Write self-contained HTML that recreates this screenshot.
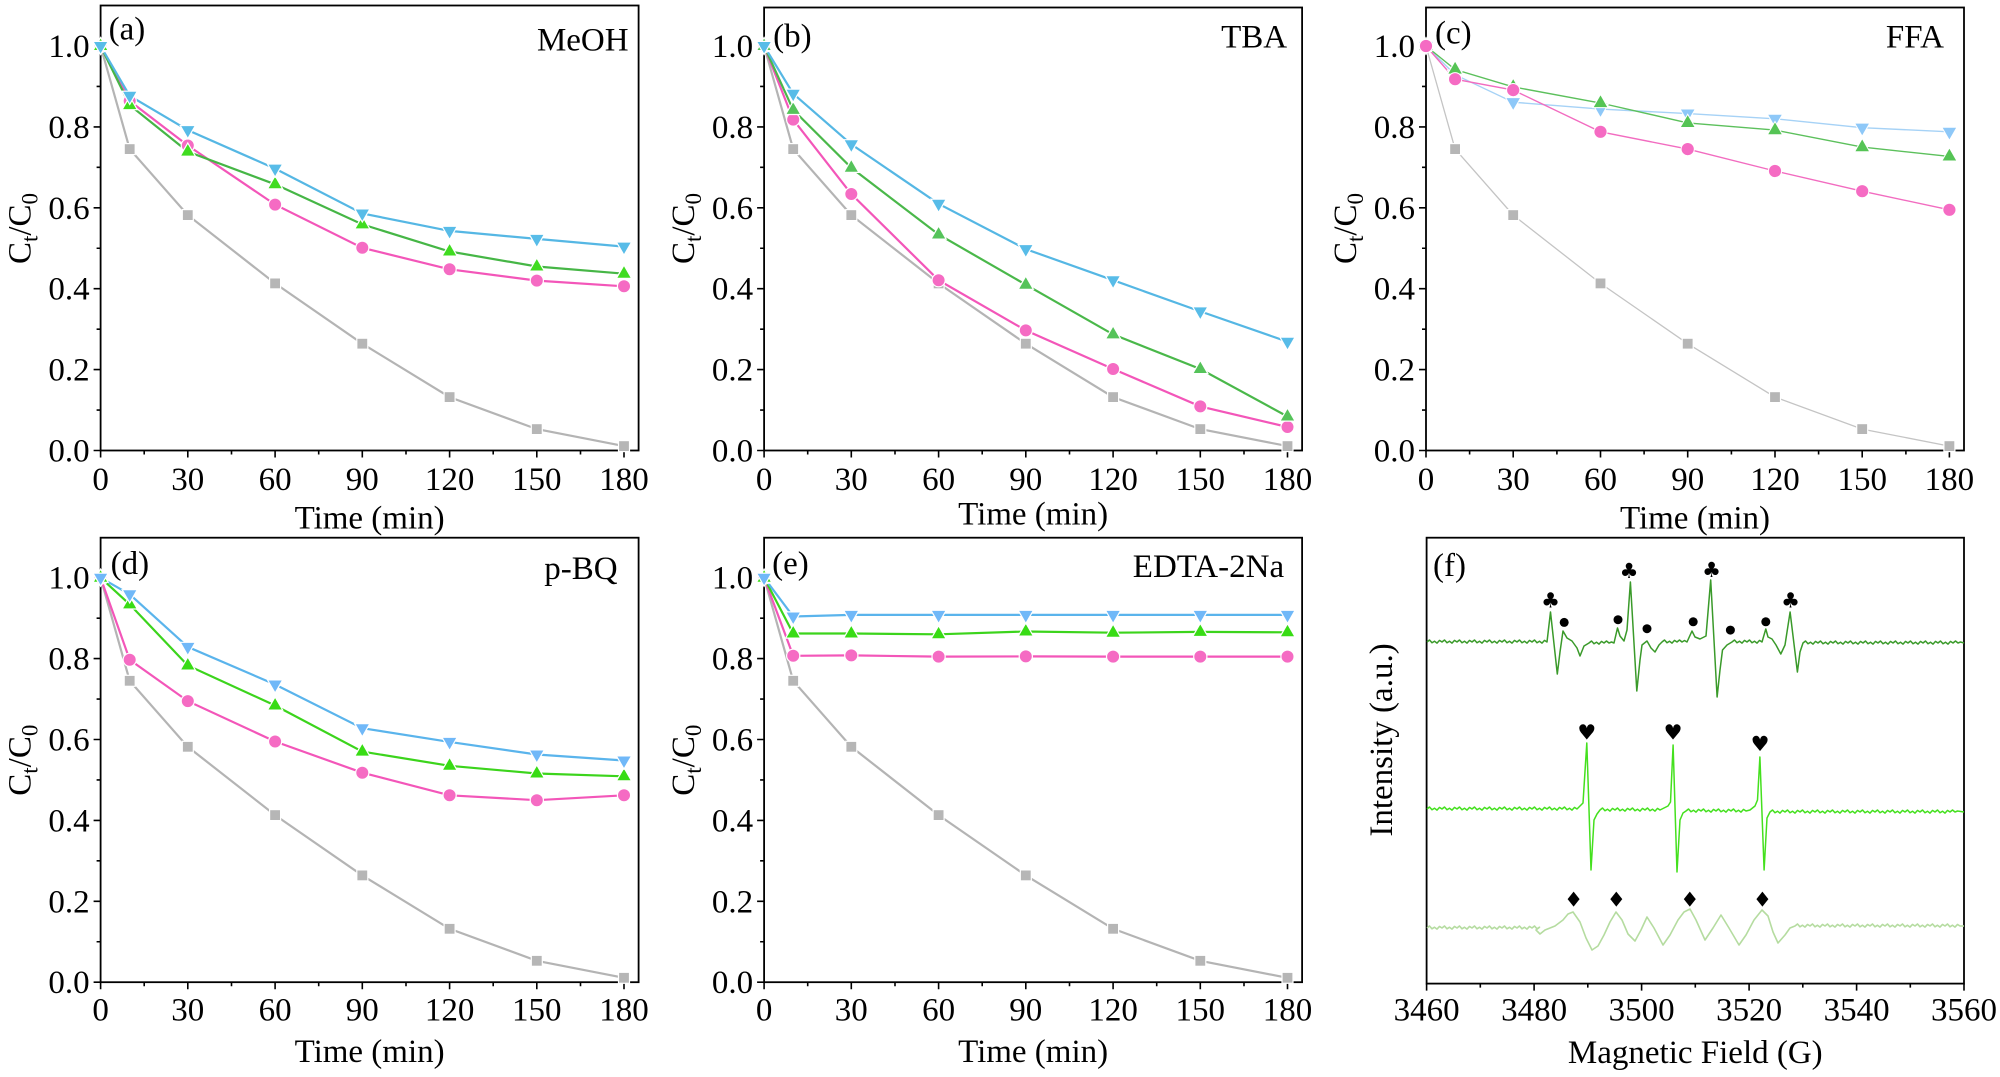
<!DOCTYPE html>
<html><head><meta charset="utf-8"><style>
html,body{margin:0;padding:0;background:#fff;}
svg{display:block;}
text{font-family:"Liberation Serif","Times New Roman",serif;fill:#000;}
.sym{font-family:"DejaVu Sans",sans-serif;}
</style></head><body>
<svg width="2000" height="1077" viewBox="0 0 2000 1077" xmlns="http://www.w3.org/2000/svg">
<defs>
<rect id="sq" x="-5.5" y="-5.5" width="11" height="11"/>
<circle id="ci" cx="0" cy="0" r="6.6"/>
<polygon id="tu" points="0,-8.6 7.6,4.6 -7.6,4.6"/>
<polygon id="td" points="0,8.6 7.6,-4.6 -7.6,-4.6"/>
<path id="ticks" d="M0,0v7M87.2,0v7M174.5,0v7M261.7,0v7M349,0v7M436.2,0v7M523.4,0v7M43.6,0v4M130.9,0v4M218.1,0v4M305.4,0v4M392.6,0v4M479.9,0v4M0,0h-7M0,-80.9h-7M0,-161.8h-7M0,-242.7h-7M0,-323.6h-7M0,-404.5h-7M0,-40.45h-4M0,-121.35h-4M0,-202.25h-4M0,-283.15h-4M0,-364.05h-4" fill="none" stroke="#000" stroke-width="1.6"/>
</defs>

<!-- ================= Panel (a) ================= -->
<g transform="translate(100.6,450.5)">
<rect x="0" y="-445" width="538" height="445" fill="none" stroke="#000" stroke-width="1.8"/>
<use href="#ticks"/>
<g font-size="33" text-anchor="end">
<text x="-11" y="11">0.0</text><text x="-11" y="-69.9">0.2</text><text x="-11" y="-150.8">0.4</text><text x="-11" y="-231.7">0.6</text><text x="-11" y="-312.6">0.8</text><text x="-11" y="-393.5">1.0</text>
</g>
<g font-size="33" text-anchor="middle">
<text x="0" y="39.5">0</text><text x="87.2" y="39.5">30</text><text x="174.5" y="39.5">60</text><text x="261.7" y="39.5">90</text><text x="349" y="39.5">120</text><text x="436.2" y="39.5">150</text><text x="523.4" y="39.5">180</text>
</g>
<polyline fill="none" stroke="#b4b4b4" stroke-width="2.2" points="0,-404.5 29.1,-301.4 87.2,-235.4 174.5,-167.1 261.7,-106.8 349,-53.4 436.2,-21.4 523.4,-4.4"/>
<polyline fill="none" stroke="#f356b9" stroke-width="2.2" points="0,-404.5 29.1,-349.5 87.2,-305 174.5,-245.9 261.7,-202.7 349,-181.2 436.2,-169.9 523.4,-164.2"/>
<polyline fill="none" stroke="#46b646" stroke-width="2.2" points="0,-404.5 29.1,-345.4 87.2,-298.9 174.5,-266.2 261.7,-226.1 349,-199 436.2,-184 523.4,-176.8"/>
<polyline fill="none" stroke="#55b7e4" stroke-width="2.2" points="0,-404.5 29.1,-354.7 87.2,-320.4 174.5,-281.9 261.7,-237 349,-219.6 436.2,-211.6 523.4,-203.9"/>
<g fill="#b6b6b6" stroke="#fff" stroke-width="1.2"><use href="#sq" x="0" y="-404.5"/><use href="#sq" x="29.1" y="-301.4"/><use href="#sq" x="87.2" y="-235.4"/><use href="#sq" x="174.5" y="-167.1"/><use href="#sq" x="261.7" y="-106.8"/><use href="#sq" x="349" y="-53.4"/><use href="#sq" x="436.2" y="-21.4"/><use href="#sq" x="523.4" y="-4.4"/></g>
<g fill="#f56bc3" stroke="#fff" stroke-width="1.2"><use href="#ci" x="0" y="-404.5"/><use href="#ci" x="29.1" y="-349.5"/><use href="#ci" x="87.2" y="-305"/><use href="#ci" x="174.5" y="-245.9"/><use href="#ci" x="261.7" y="-202.7"/><use href="#ci" x="349" y="-181.2"/><use href="#ci" x="436.2" y="-169.9"/><use href="#ci" x="523.4" y="-164.2"/></g>
<g fill="#40dc20" stroke="#fff" stroke-width="1.2"><use href="#tu" x="0" y="-404.5"/><use href="#tu" x="29.1" y="-345.4"/><use href="#tu" x="87.2" y="-298.9"/><use href="#tu" x="174.5" y="-266.2"/><use href="#tu" x="261.7" y="-226.1"/><use href="#tu" x="349" y="-199"/><use href="#tu" x="436.2" y="-184"/><use href="#tu" x="523.4" y="-176.8"/></g>
<g fill="#58bce8" stroke="#fff" stroke-width="1.2"><use href="#td" x="0" y="-404.5"/><use href="#td" x="29.1" y="-354.7"/><use href="#td" x="87.2" y="-320.4"/><use href="#td" x="174.5" y="-281.9"/><use href="#td" x="261.7" y="-237"/><use href="#td" x="349" y="-219.6"/><use href="#td" x="436.2" y="-211.6"/><use href="#td" x="523.4" y="-203.9"/></g>
<text x="8" y="-411" font-size="33">(a)</text>
<text x="528" y="-400" font-size="33" text-anchor="end">MeOH</text>
<text x="269" y="78" font-size="33" text-anchor="middle">Time (min)</text>
<text transform="translate(-70,-222) rotate(-90)" font-size="33" text-anchor="middle">C<tspan font-size="23" dy="7">t</tspan><tspan dy="-7">/C</tspan><tspan font-size="23" dy="7">0</tspan></text>
</g>

<!-- ================= Panel (b) ================= -->
<g transform="translate(764.1,450.5)">
<rect x="0" y="-443" width="538" height="443" fill="none" stroke="#000" stroke-width="1.8"/>
<use href="#ticks"/>
<g font-size="33" text-anchor="end">
<text x="-11" y="11">0.0</text><text x="-11" y="-69.9">0.2</text><text x="-11" y="-150.8">0.4</text><text x="-11" y="-231.7">0.6</text><text x="-11" y="-312.6">0.8</text><text x="-11" y="-393.5">1.0</text>
</g>
<g font-size="33" text-anchor="middle">
<text x="0" y="39.5">0</text><text x="87.2" y="39.5">30</text><text x="174.5" y="39.5">60</text><text x="261.7" y="39.5">90</text><text x="349" y="39.5">120</text><text x="436.2" y="39.5">150</text><text x="523.4" y="39.5">180</text>
</g>
<polyline fill="none" stroke="#b4b4b4" stroke-width="2.2" points="0,-404.5 29.1,-301.4 87.2,-235.4 174.5,-167.1 261.7,-106.8 349,-53.4 436.2,-21.4 523.4,-4.4"/>
<polyline fill="none" stroke="#f356b9" stroke-width="2.2" points="0,-404.5 29.1,-330.9 87.2,-256.5 174.5,-170.3 261.7,-120.1 349,-81.5 436.2,-44.1 523.4,-23.5"/>
<polyline fill="none" stroke="#4ab84a" stroke-width="2.2" points="0,-404.5 29.1,-340.6 87.2,-282.7 174.5,-216 261.7,-165.8 349,-116.1 436.2,-81.5 523.4,-34"/>
<polyline fill="none" stroke="#55b7e4" stroke-width="2.2" points="0,-404.5 29.1,-356.8 87.2,-306.2 174.5,-246.7 261.7,-201.4 349,-170.3 436.2,-139.1 523.4,-108.8"/>
<g fill="#b6b6b6" stroke="#fff" stroke-width="1.2"><use href="#sq" x="0" y="-404.5"/><use href="#sq" x="29.1" y="-301.4"/><use href="#sq" x="87.2" y="-235.4"/><use href="#sq" x="174.5" y="-167.1"/><use href="#sq" x="261.7" y="-106.8"/><use href="#sq" x="349" y="-53.4"/><use href="#sq" x="436.2" y="-21.4"/><use href="#sq" x="523.4" y="-4.4"/></g>
<g fill="#f56bc3" stroke="#fff" stroke-width="1.2"><use href="#ci" x="0" y="-404.5"/><use href="#ci" x="29.1" y="-330.9"/><use href="#ci" x="87.2" y="-256.5"/><use href="#ci" x="174.5" y="-170.3"/><use href="#ci" x="261.7" y="-120.1"/><use href="#ci" x="349" y="-81.5"/><use href="#ci" x="436.2" y="-44.1"/><use href="#ci" x="523.4" y="-23.5"/></g>
<g fill="#55c35a" stroke="#fff" stroke-width="1.2"><use href="#tu" x="0" y="-404.5"/><use href="#tu" x="29.1" y="-340.6"/><use href="#tu" x="87.2" y="-282.7"/><use href="#tu" x="174.5" y="-216"/><use href="#tu" x="261.7" y="-165.8"/><use href="#tu" x="349" y="-116.1"/><use href="#tu" x="436.2" y="-81.5"/><use href="#tu" x="523.4" y="-34"/></g>
<g fill="#58bce8" stroke="#fff" stroke-width="1.2"><use href="#td" x="0" y="-404.5"/><use href="#td" x="29.1" y="-356.8"/><use href="#td" x="87.2" y="-306.2"/><use href="#td" x="174.5" y="-246.7"/><use href="#td" x="261.7" y="-201.4"/><use href="#td" x="349" y="-170.3"/><use href="#td" x="436.2" y="-139.1"/><use href="#td" x="523.4" y="-108.8"/></g>
<text x="9" y="-404" font-size="33">(b)</text>
<text x="523" y="-403" font-size="33" text-anchor="end">TBA</text>
<text x="269" y="74" font-size="33" text-anchor="middle">Time (min)</text>
<text transform="translate(-70,-222) rotate(-90)" font-size="33" text-anchor="middle">C<tspan font-size="23" dy="7">t</tspan><tspan dy="-7">/C</tspan><tspan font-size="23" dy="7">0</tspan></text>
</g>

<!-- ================= Panel (c) ================= -->
<g transform="translate(1426,450.5)">
<rect x="0" y="-443" width="538" height="443" fill="none" stroke="#000" stroke-width="1.8"/>
<use href="#ticks"/>
<g font-size="33" text-anchor="end">
<text x="-11" y="11">0.0</text><text x="-11" y="-69.9">0.2</text><text x="-11" y="-150.8">0.4</text><text x="-11" y="-231.7">0.6</text><text x="-11" y="-312.6">0.8</text><text x="-11" y="-393.5">1.0</text>
</g>
<g font-size="33" text-anchor="middle">
<text x="0" y="39.5">0</text><text x="87.2" y="39.5">30</text><text x="174.5" y="39.5">60</text><text x="261.7" y="39.5">90</text><text x="349" y="39.5">120</text><text x="436.2" y="39.5">150</text><text x="523.4" y="39.5">180</text>
</g>
<polyline fill="none" stroke="#c4c4c4" stroke-width="1.3" points="0,-404.5 29.1,-301.4 87.2,-235.4 174.5,-167.1 261.7,-106.8 349,-53.4 436.2,-21.4 523.4,-4.4"/>
<polyline fill="none" stroke="#a6d2f6" stroke-width="1.4" points="0,-404.5 29.1,-375.8 87.2,-348.3 174.5,-341.4 261.7,-336.9 349,-331.7 436.2,-322.8 523.4,-318.7"/>
<polyline fill="none" stroke="#5cc05c" stroke-width="1.4" points="0,-404.5 29.1,-381 87.2,-363.6 174.5,-347.5 261.7,-327.6 349,-320.4 436.2,-303.4 523.4,-294.1"/>
<polyline fill="none" stroke="#f26cc0" stroke-width="1.4" points="0,-404.5 29.1,-371.3 87.2,-360.4 174.5,-318.7 261.7,-301.4 349,-279.5 436.2,-259.3 523.4,-240.7"/>
<g fill="#b6b6b6" stroke="#fff" stroke-width="1.2"><use href="#sq" x="0" y="-404.5"/><use href="#sq" x="29.1" y="-301.4"/><use href="#sq" x="87.2" y="-235.4"/><use href="#sq" x="174.5" y="-167.1"/><use href="#sq" x="261.7" y="-106.8"/><use href="#sq" x="349" y="-53.4"/><use href="#sq" x="436.2" y="-21.4"/><use href="#sq" x="523.4" y="-4.4"/></g>
<g fill="#8ec8f8" stroke="#fff" stroke-width="1"><use href="#td" x="0" y="-404.5"/><use href="#td" x="29.1" y="-375.8"/><use href="#td" x="87.2" y="-348.3"/><use href="#td" x="174.5" y="-341.4"/><use href="#td" x="261.7" y="-336.9"/><use href="#td" x="349" y="-331.7"/><use href="#td" x="436.2" y="-322.8"/><use href="#td" x="523.4" y="-318.7"/></g>
<g fill="#55c455" stroke="#fff" stroke-width="1"><use href="#tu" x="0" y="-404.5"/><use href="#tu" x="29.1" y="-381"/><use href="#tu" x="87.2" y="-363.6"/><use href="#tu" x="174.5" y="-347.5"/><use href="#tu" x="261.7" y="-327.6"/><use href="#tu" x="349" y="-320.4"/><use href="#tu" x="436.2" y="-303.4"/><use href="#tu" x="523.4" y="-294.1"/></g>
<g fill="#f56bc3" stroke="#fff" stroke-width="1"><use href="#ci" x="0" y="-404.5"/><use href="#ci" x="29.1" y="-371.3"/><use href="#ci" x="87.2" y="-360.4"/><use href="#ci" x="174.5" y="-318.7"/><use href="#ci" x="261.7" y="-301.4"/><use href="#ci" x="349" y="-279.5"/><use href="#ci" x="436.2" y="-259.3"/><use href="#ci" x="523.4" y="-240.7"/></g>
<text x="9" y="-407" font-size="33">(c)</text>
<text x="518" y="-403" font-size="33" text-anchor="end">FFA</text>
<text x="269" y="78" font-size="33" text-anchor="middle">Time (min)</text>
<text transform="translate(-70,-222) rotate(-90)" font-size="33" text-anchor="middle">C<tspan font-size="23" dy="7">t</tspan><tspan dy="-7">/C</tspan><tspan font-size="23" dy="7">0</tspan></text>
</g>

<!-- ================= Panel (d) ================= -->
<g transform="translate(100.6,982.2)">
<rect x="0" y="-444.5" width="538" height="444.5" fill="none" stroke="#000" stroke-width="1.8"/>
<use href="#ticks"/>
<g font-size="33" text-anchor="end">
<text x="-11" y="11">0.0</text><text x="-11" y="-69.9">0.2</text><text x="-11" y="-150.8">0.4</text><text x="-11" y="-231.7">0.6</text><text x="-11" y="-312.6">0.8</text><text x="-11" y="-393.5">1.0</text>
</g>
<g font-size="33" text-anchor="middle">
<text x="0" y="38.5">0</text><text x="87.2" y="38.5">30</text><text x="174.5" y="38.5">60</text><text x="261.7" y="38.5">90</text><text x="349" y="38.5">120</text><text x="436.2" y="38.5">150</text><text x="523.4" y="38.5">180</text>
</g>
<polyline fill="none" stroke="#b4b4b4" stroke-width="2.2" points="0,-404.5 29.1,-301.4 87.2,-235.4 174.5,-167.1 261.7,-106.8 349,-53.4 436.2,-21.4 523.4,-4.4"/>
<polyline fill="none" stroke="#f356b9" stroke-width="2.2" points="0,-404.5 29.1,-322.4 87.2,-281.1 174.5,-240.7 261.7,-209.5 349,-186.9 436.2,-182 523.4,-186.9"/>
<polyline fill="none" stroke="#3cd41c" stroke-width="2.2" points="0,-404.5 29.1,-377.8 87.2,-316.7 174.5,-276.7 261.7,-230.6 349,-216.4 436.2,-208.7 523.4,-205.9"/>
<polyline fill="none" stroke="#5ab4ec" stroke-width="2.2" points="0,-404.5 29.1,-387.9 87.2,-335.3 174.5,-297.7 261.7,-254 349,-240.3 436.2,-227.7 523.4,-221.7"/>
<g fill="#b6b6b6" stroke="#fff" stroke-width="1.2"><use href="#sq" x="0" y="-404.5"/><use href="#sq" x="29.1" y="-301.4"/><use href="#sq" x="87.2" y="-235.4"/><use href="#sq" x="174.5" y="-167.1"/><use href="#sq" x="261.7" y="-106.8"/><use href="#sq" x="349" y="-53.4"/><use href="#sq" x="436.2" y="-21.4"/><use href="#sq" x="523.4" y="-4.4"/></g>
<g fill="#f56bc3" stroke="#fff" stroke-width="1.2"><use href="#ci" x="0" y="-404.5"/><use href="#ci" x="29.1" y="-322.4"/><use href="#ci" x="87.2" y="-281.1"/><use href="#ci" x="174.5" y="-240.7"/><use href="#ci" x="261.7" y="-209.5"/><use href="#ci" x="349" y="-186.9"/><use href="#ci" x="436.2" y="-182"/><use href="#ci" x="523.4" y="-186.9"/></g>
<g fill="#38dc14" stroke="#fff" stroke-width="1.2"><use href="#tu" x="0" y="-404.5"/><use href="#tu" x="29.1" y="-377.8"/><use href="#tu" x="87.2" y="-316.7"/><use href="#tu" x="174.5" y="-276.7"/><use href="#tu" x="261.7" y="-230.6"/><use href="#tu" x="349" y="-216.4"/><use href="#tu" x="436.2" y="-208.7"/><use href="#tu" x="523.4" y="-205.9"/></g>
<g fill="#70b8f8" stroke="#fff" stroke-width="1.2"><use href="#td" x="0" y="-404.5"/><use href="#td" x="29.1" y="-387.9"/><use href="#td" x="87.2" y="-335.3"/><use href="#td" x="174.5" y="-297.7"/><use href="#td" x="261.7" y="-254"/><use href="#td" x="349" y="-240.3"/><use href="#td" x="436.2" y="-227.7"/><use href="#td" x="523.4" y="-221.7"/></g>
<text x="10" y="-408" font-size="33">(d)</text>
<text x="517" y="-403" font-size="33" text-anchor="end">p-BQ</text>
<text x="269" y="80" font-size="33" text-anchor="middle">Time (min)</text>
<text transform="translate(-70,-222) rotate(-90)" font-size="33" text-anchor="middle">C<tspan font-size="23" dy="7">t</tspan><tspan dy="-7">/C</tspan><tspan font-size="23" dy="7">0</tspan></text>
</g>

<!-- ================= Panel (e) ================= -->
<g transform="translate(764.1,982.2)">
<rect x="0" y="-444.5" width="538" height="444.5" fill="none" stroke="#000" stroke-width="1.8"/>
<use href="#ticks"/>
<g font-size="33" text-anchor="end">
<text x="-11" y="11">0.0</text><text x="-11" y="-69.9">0.2</text><text x="-11" y="-150.8">0.4</text><text x="-11" y="-231.7">0.6</text><text x="-11" y="-312.6">0.8</text><text x="-11" y="-393.5">1.0</text>
</g>
<g font-size="33" text-anchor="middle">
<text x="0" y="38.5">0</text><text x="87.2" y="38.5">30</text><text x="174.5" y="38.5">60</text><text x="261.7" y="38.5">90</text><text x="349" y="38.5">120</text><text x="436.2" y="38.5">150</text><text x="523.4" y="38.5">180</text>
</g>
<polyline fill="none" stroke="#b4b4b4" stroke-width="2.2" points="0,-404.5 29.1,-301.4 87.2,-235.4 174.5,-167.1 261.7,-106.8 349,-53.4 436.2,-21.4 523.4,-4.4"/>
<polyline fill="none" stroke="#f356b9" stroke-width="2.2" points="0,-404.5 29.1,-326.4 87.2,-326.8 174.5,-325.6 261.7,-325.8 349,-325.6 436.2,-325.6 523.4,-325.6"/>
<polyline fill="none" stroke="#3cd41c" stroke-width="2.2" points="0,-404.5 29.1,-348.7 87.2,-348.7 174.5,-347.9 261.7,-350.7 349,-349.5 436.2,-350.3 523.4,-349.9"/>
<polyline fill="none" stroke="#5ab4ec" stroke-width="2.2" points="0,-404.5 29.1,-365.7 87.2,-367.3 174.5,-367.3 261.7,-367.3 349,-367.3 436.2,-367.3 523.4,-367.3"/>
<g fill="#b6b6b6" stroke="#fff" stroke-width="1.2"><use href="#sq" x="0" y="-404.5"/><use href="#sq" x="29.1" y="-301.4"/><use href="#sq" x="87.2" y="-235.4"/><use href="#sq" x="174.5" y="-167.1"/><use href="#sq" x="261.7" y="-106.8"/><use href="#sq" x="349" y="-53.4"/><use href="#sq" x="436.2" y="-21.4"/><use href="#sq" x="523.4" y="-4.4"/></g>
<g fill="#f56bc3" stroke="#fff" stroke-width="1.2"><use href="#ci" x="0" y="-404.5"/><use href="#ci" x="29.1" y="-326.4"/><use href="#ci" x="87.2" y="-326.8"/><use href="#ci" x="174.5" y="-325.6"/><use href="#ci" x="261.7" y="-325.8"/><use href="#ci" x="349" y="-325.6"/><use href="#ci" x="436.2" y="-325.6"/><use href="#ci" x="523.4" y="-325.6"/></g>
<g fill="#38dc14" stroke="#fff" stroke-width="1.2"><use href="#tu" x="0" y="-404.5"/><use href="#tu" x="29.1" y="-348.7"/><use href="#tu" x="87.2" y="-348.7"/><use href="#tu" x="174.5" y="-347.9"/><use href="#tu" x="261.7" y="-350.7"/><use href="#tu" x="349" y="-349.5"/><use href="#tu" x="436.2" y="-350.3"/><use href="#tu" x="523.4" y="-349.9"/></g>
<g fill="#70b8f8" stroke="#fff" stroke-width="1.2"><use href="#td" x="0" y="-404.5"/><use href="#td" x="29.1" y="-365.7"/><use href="#td" x="87.2" y="-367.3"/><use href="#td" x="174.5" y="-367.3"/><use href="#td" x="261.7" y="-367.3"/><use href="#td" x="349" y="-367.3"/><use href="#td" x="436.2" y="-367.3"/><use href="#td" x="523.4" y="-367.3"/></g>
<text x="8" y="-408" font-size="33">(e)</text>
<text x="520" y="-405" font-size="33" text-anchor="end">EDTA-2Na</text>
<text x="269" y="80" font-size="33" text-anchor="middle">Time (min)</text>
<text transform="translate(-70,-222) rotate(-90)" font-size="33" text-anchor="middle">C<tspan font-size="23" dy="7">t</tspan><tspan dy="-7">/C</tspan><tspan font-size="23" dy="7">0</tspan></text>
</g>

<!-- ================= Panel (f) ================= -->
<g>
<rect x="1426.6" y="537.7" width="537.4" height="445.9" fill="none" stroke="#000" stroke-width="1.8"/>
<path d="M1426.6,983.6v7M1534.1,983.6v7M1641.6,983.6v7M1749.1,983.6v7M1856.6,983.6v7M1964,983.6v7M1480.3,983.6v4M1587.8,983.6v4M1695.3,983.6v4M1802.8,983.6v4M1910.3,983.6v4" fill="none" stroke="#000" stroke-width="1.6"/>
<g font-size="33" text-anchor="middle">
<text x="1426.6" y="1020.5">3460</text><text x="1534.1" y="1020.5">3480</text><text x="1641.6" y="1020.5">3500</text><text x="1749.1" y="1020.5">3520</text><text x="1856.6" y="1020.5">3540</text><text x="1964" y="1020.5">3560</text>
</g>
<text x="1695.3" y="1063" font-size="33" text-anchor="middle">Magnetic Field (G)</text>
<text transform="translate(1392,740) rotate(-90)" font-size="33" text-anchor="middle">Intensity (a.u.)</text>
<text x="1433" y="576" font-size="33">(f)</text>

<!-- top spectrum -->
<path fill="none" stroke="#3a9a2a" stroke-width="1.5" stroke-linejoin="round" d="M1427,642
l2.5,-2 l2.5,2.8 l2.5,-1.6 l2.5,1.9 l2.5,-2.7 l2.5,1.6 l2.5,-2 l2.5,2.8 l2.5,-1.6 l2.5,1.9 l2.5,-2.7 l2.5,1.6
l2.5,-2 l2.5,2.8 l2.5,-1.6 l2.5,1.9 l2.5,-2.7 l2.5,1.6 l2.5,-2 l2.5,2.8 l2.5,-1.6 l2.5,1.9 l2.5,-2.7 l2.5,1.6
l2.5,-2 l2.5,2.8 l2.5,-1.6 l2.5,1.9 l2.5,-2.7 l2.5,1.6 l2.5,-2 l2.5,2.8 l2.5,-1.6 l2.5,1.9 l2.5,-2.7 l2.5,1.6
l2.5,-2 l2.5,2.8 l2.5,-1.6 l2.5,1.9 l2.5,-2.7 l2.5,1.6 l2.5,-2 l2.5,2.8 l2.5,-1.6 l2.5,1.9 l2.5,-2.7 l2.5,1.6
L1550.5,612 L1557.3,674 L1560,652 L1563,631 L1567,638 L1572,641 L1577,648 L1580,656 L1584,646 L1589,643
l2.5,-2 l2.5,2.8 l2.5,-1.6 l2.5,1.9 l2.5,-2.7 l2.5,1.6 l2.5,-2 l2.5,2 l2.5,-1 l2.5,1
L1617.5,628 L1620,636 L1624,641 L1627,630 L1630.4,582 L1636.8,691 L1640,660 L1642,645 L1647,641 L1651,648 L1655,652 L1659,645 L1662,642
l2.5,-2 l2.5,2.8 l2.5,-1.6 l2.5,1.9 l2.5,-2.7 l2.5,1.6 l2.5,-2 l2.5,2 l2.5,-1.5 l2.5,1.5
L1692,631 L1695,637 L1700,639 L1706,636 L1710.7,580 L1717.1,697 L1720,670 L1722.5,650 L1727,645 L1732,642
l2.5,-2 l2.5,2.8 l2.5,-1.6 l2.5,1.9 l2.5,-2.7 l2.5,1.6 l2.5,-2 l2.5,2.8 l2.5,-1.6 l2.5,1.9 l2.5,-2.7 l2.5,1.6
L1765.8,629 L1768,637 L1772,639 L1776,645 L1780.8,654 L1785,645 L1790.1,612 L1797.4,672 L1800,652 L1803,643
l2.5,-2 l2.5,2.8 l2.5,-1.6 l2.5,1.9 l2.5,-2.7 l2.5,1.6 l2.5,-2 l2.5,2.8 l2.5,-1.6 l2.5,1.9 l2.5,-2.7 l2.5,1.6
l2.5,-2 l2.5,2.8 l2.5,-1.6 l2.5,1.9 l2.5,-2.7 l2.5,1.6 l2.5,-2 l2.5,2.8 l2.5,-1.6 l2.5,1.9 l2.5,-2.7 l2.5,1.6
l2.5,-2 l2.5,2.8 l2.5,-1.6 l2.5,1.9 l2.5,-2.7 l2.5,1.6 l2.5,-2 l2.5,2.8 l2.5,-1.6 l2.5,1.9 l2.5,-2.7 l2.5,1.6
l2.5,-2 l2.5,2.8 l2.5,-1.6 l2.5,1.9 l2.5,-2.7 l2.5,1.6 l2.5,-2 l2.5,2.8 l2.5,-1.6 l2.5,1.9 l2.5,-2.7 l2.5,1.6
l2.5,-2 l2.5,2.8 l2.5,-1.6 l2.5,1.9 l2.5,-2.7 l2.5,1.6 l2.5,-2 l2.5,2.8 l2.5,-1.6 l2.5,1.9 l2.5,-2.7 l2.5,1.6
l2.5,-2 l2.5,2 l2.5,-1 l3.5,1"/>

<!-- middle spectrum -->
<path fill="none" stroke="#44e01e" stroke-width="1.5" stroke-linejoin="round" d="M1427,809
l2.5,-2 l2.5,2.8 l2.5,-1.6 l2.5,1.9 l2.5,-2.7 l2.5,1.6 l2.5,-2 l2.5,2.8 l2.5,-1.6 l2.5,1.9 l2.5,-2.7 l2.5,1.6
l2.5,-2 l2.5,2.8 l2.5,-1.6 l2.5,1.9 l2.5,-2.7 l2.5,1.6 l2.5,-2 l2.5,2.8 l2.5,-1.6 l2.5,1.9 l2.5,-2.7 l2.5,1.6
l2.5,-2 l2.5,2.8 l2.5,-1.6 l2.5,1.9 l2.5,-2.7 l2.5,1.6 l2.5,-2 l2.5,2.8 l2.5,-1.6 l2.5,1.9 l2.5,-2.7 l2.5,1.6
l2.5,-2 l2.5,2.8 l2.5,-1.6 l2.5,1.9 l2.5,-2.7 l2.5,1.6 l2.5,-2 l2.5,2.8 l2.5,-1.6 l2.5,1.9 l2.5,-2.7 l2.5,1.6
l2.5,-2 l2.5,2.8 l2.5,-1.6 l2.5,1.9 l2.5,-2.7 l2.5,1.6 l2.5,-2 l2.5,2.8 l2.5,-1.6 l2.5,1.9 l2.5,-2.7 l2.5,1.6
L1580,806 L1583,803 L1586.8,743 L1591,870 L1594,820 L1597,814 L1600,810
l2.5,-2 l2.5,2.8 l2.5,-1.6 l2.5,1.9 l2.5,-2.7 l2.5,1.6 l2.5,-2 l2.5,2.8 l2.5,-1.6 l2.5,1.9 l2.5,-2.7 l2.5,1.6
l2.5,-2 l2.5,2.8 l2.5,-1.6 l2.5,1.9 l2.5,-2.7 l2.5,1.6 l2.5,-2 l2.5,2.8 l2.5,-1.6 l2.5,1.9 l2.5,-2.7 l2.5,1.6
L1664,808 L1668,806 L1670.5,802 L1673.1,745 L1677,872 L1680,820 L1683,813 L1686,811
l2.5,-2 l2.5,2.8 l2.5,-1.6 l2.5,1.9 l2.5,-2.7 l2.5,1.6 l2.5,-2 l2.5,2.8 l2.5,-1.6 l2.5,1.9 l2.5,-2.7 l2.5,1.6
l2.5,-2 l2.5,2.8 l2.5,-1.6 l2.5,1.9 l2.5,-2.7 l2.5,1.6 l2.5,-2 l2.5,2.8 l2.5,-1.6 l2.5,1.9 l2.5,-2.7 l2.5,1.6
L1750,810 L1755,806 L1757.5,800 L1759.9,757 L1764.1,870 L1767,818 L1770,812
l2.5,-2 l2.5,2.8 l2.5,-1.6 l2.5,1.9 l2.5,-2.7 l2.5,1.6 l2.5,-2 l2.5,2.8 l2.5,-1.6 l2.5,1.9 l2.5,-2.7 l2.5,1.6
l2.5,-2 l2.5,2.8 l2.5,-1.6 l2.5,1.9 l2.5,-2.7 l2.5,1.6 l2.5,-2 l2.5,2.8 l2.5,-1.6 l2.5,1.9 l2.5,-2.7 l2.5,1.6
l2.5,-2 l2.5,2.8 l2.5,-1.6 l2.5,1.9 l2.5,-2.7 l2.5,1.6 l2.5,-2 l2.5,2.8 l2.5,-1.6 l2.5,1.9 l2.5,-2.7 l2.5,1.6
l2.5,-2 l2.5,2.8 l2.5,-1.6 l2.5,1.9 l2.5,-2.7 l2.5,1.6 l2.5,-2 l2.5,2.8 l2.5,-1.6 l2.5,1.9 l2.5,-2.7 l2.5,1.6
l2.5,-2 l2.5,2.8 l2.5,-1.6 l2.5,1.9 l2.5,-2.7 l2.5,1.6 l2.5,-2 l2.5,2.8 l2.5,-1.6 l2.5,1.9 l2.5,-2.7 l2.5,1.6
l2.5,-2 l2.5,2.8 l2.5,-1.6 l2.5,1.9 l2.5,-2.7 l2.5,1.6 l2.5,-2 l2.5,2.8 l2.5,-1.6 l2.5,1.9 l2.5,-2.7 l2.5,1.6
l2.5,-2 l2.5,2 l2.5,-1 l6.5,1"/>

<!-- bottom spectrum -->
<path fill="none" stroke="#b5dca0" stroke-width="1.6" stroke-linejoin="round" d="M1427,928
l2.5,-2 l2.5,2.8 l2.5,-1.6 l2.5,1.9 l2.5,-2.7 l2.5,1.6 l2.5,-2 l2.5,2.8 l2.5,-1.6 l2.5,1.9 l2.5,-2.7 l2.5,1.6
l2.5,-2 l2.5,2.8 l2.5,-1.6 l2.5,1.9 l2.5,-2.7 l2.5,1.6 l2.5,-2 l2.5,2.8 l2.5,-1.6 l2.5,1.9 l2.5,-2.7 l2.5,1.6
l2.5,-2 l2.5,2.8 l2.5,-1.6 l2.5,1.9 l2.5,-2.7 l2.5,1.6 l2.5,-2 l2.5,2.8 l2.5,-1.6 l2.5,1.9 l2.5,-2.7 l2.5,1.6
l2.5,-2 l2.5,2.8 l2.5,-1.6 l2.5,1.9 l2.5,-2.7 l2.5,1.6 l2.5,-2 l2.5,2.8 l2.5,-1.6
L1536,930 L1540,934 L1545,930 L1550,928 L1555,926 L1563,920 L1568,914 L1573,912 L1580,922 L1586,938 L1592,950 L1598,946 L1604,935 L1610,922 L1616,912 L1622,920 L1628,934 L1635,941 L1641,930 L1647,917 L1654,928 L1663,945 L1670,935 L1678,920 L1684,912 L1690,909 L1696,920 L1705,940 L1713,928 L1721,915 L1729,928 L1739,945 L1746,935 L1754,920 L1762,910 L1768,916 L1773,932 L1778,943 L1785,935 L1790,928 L1795,926
l2.5,-2 l2.5,2.8 l2.5,-1.6 l2.5,1.9 l2.5,-2.7 l2.5,1.6 l2.5,-2 l2.5,2.8 l2.5,-1.6 l2.5,1.9 l2.5,-2.7 l2.5,1.6
l2.5,-2 l2.5,2.8 l2.5,-1.6 l2.5,1.9 l2.5,-2.7 l2.5,1.6 l2.5,-2 l2.5,2.8 l2.5,-1.6 l2.5,1.9 l2.5,-2.7 l2.5,1.6
l2.5,-2 l2.5,2.8 l2.5,-1.6 l2.5,1.9 l2.5,-2.7 l2.5,1.6 l2.5,-2 l2.5,2.8 l2.5,-1.6 l2.5,1.9 l2.5,-2.7 l2.5,1.6
l2.5,-2 l2.5,2.8 l2.5,-1.6 l2.5,1.9 l2.5,-2.7 l2.5,1.6 l2.5,-2 l2.5,2.8 l2.5,-1.6 l2.5,1.9 l2.5,-2.7 l2.5,1.6
l2.5,-2 l2.5,2.8 l2.5,-1.6 l2.5,1.9 l2.5,-2.7 l2.5,1.6 l2.5,-2 l2.5,2.8 l2.5,-1.6 l2.5,1.9 l2.5,-2.7 l2.5,1.6
l2.5,-2 l2.5,2.8 l2.5,-1.6 l2.5,1.9 l2.5,-2.7 l2.5,1.6 l4,0"/>

<!-- annotations -->
<g class="sym" font-size="21" text-anchor="middle">
<text class="sym" x="1550.5" y="607.5">♣</text>
<text class="sym" x="1629.1" y="577.8">♣</text>
<text class="sym" x="1711.6" y="577">♣</text>
<text class="sym" x="1790.6" y="607.5">♣</text>
<text class="sym" x="1586.8" y="739.5">♥</text>
<text class="sym" x="1673" y="739.5">♥</text>
<text class="sym" x="1760" y="751">♥</text>
</g>
<g fill="#000">
<circle cx="1564.2" cy="622.4" r="4.5"/><circle cx="1618" cy="619.7" r="4.5"/><circle cx="1647" cy="628.7" r="4.5"/><circle cx="1693.2" cy="621.8" r="4.5"/><circle cx="1730.4" cy="630.1" r="4.5"/><circle cx="1765.8" cy="621.8" r="4.5"/>
<polygon points="1573.6,891.6 1579.6,899.1 1573.6,906.6 1567.6,899.1"/>
<polygon points="1616.3,891.6 1622.3,899.1 1616.3,906.6 1610.3,899.1"/>
<polygon points="1689.8,891.6 1695.8,899.1 1689.8,906.6 1683.8,899.1"/>
<polygon points="1762.4,891.6 1768.4,899.1 1762.4,906.6 1756.4,899.1"/>
</g>
</g>
</svg>
</body></html>
